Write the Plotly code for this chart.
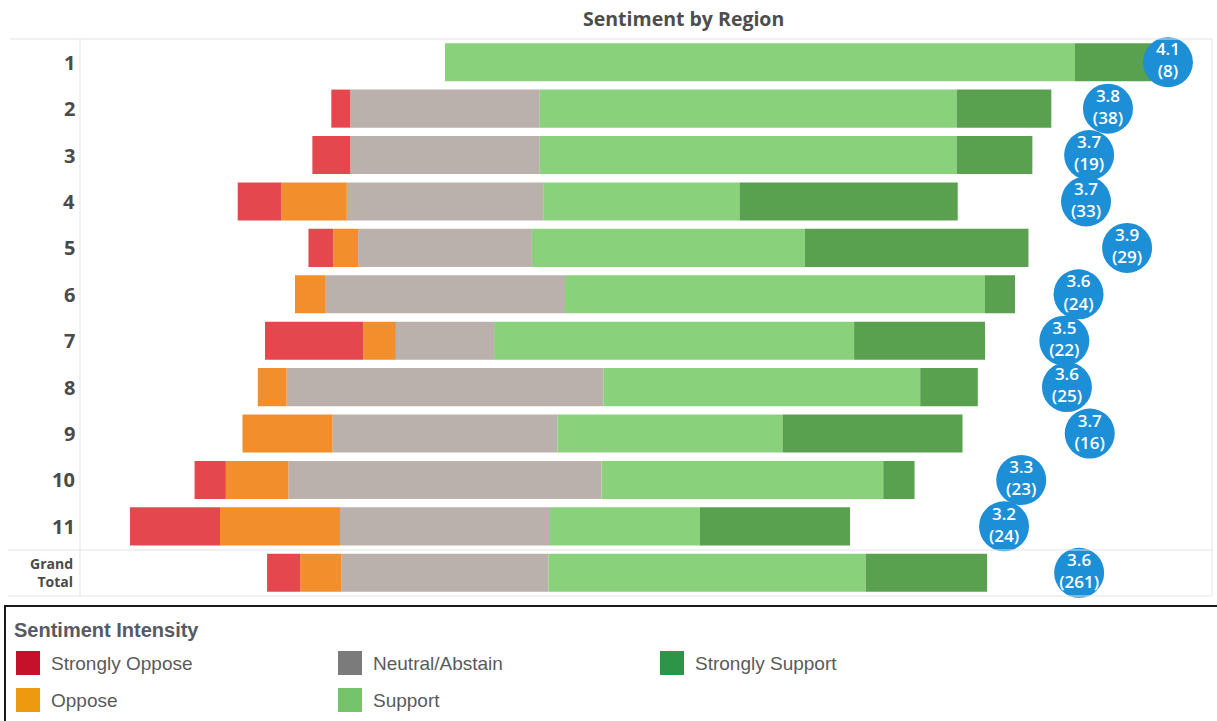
import plotly.graph_objects as go

# ---------------- data ----------------
regions = ["1", "2", "3", "4", "5", "6", "7", "8", "9", "10", "11"]
strongly_oppose = [0, 1, 1, 2, 1, 0, 3, 0, 0, 1, 3]
oppose = [0, 0, 0, 3, 1, 1, 1, 1, 2, 2, 4]
neutral = [0, 10, 5, 9, 7, 8, 3, 11, 5, 10, 7]
support = [7, 22, 11, 9, 11, 14, 11, 11, 5, 9, 5]
strongly_support = [1, 5, 2, 10, 9, 1, 4, 2, 4, 1, 5]
total_label = "Grand<br>Total"

categories = ["Strongly Oppose", "Oppose", "Neutral/Abstain", "Support", "Strongly Support"]
bar_colors = ["#E4484E", "#F28E2B", "#BAB0AC", "#8AD17C", "#59A14F"]
legend_colors = ["#C5122A", "#EE9A10", "#7B7B7B", "#74C46C", "#2E9447"]

# ---------------- derived ----------------
series = [strongly_oppose, oppose, neutral, support, strongly_support]
rows = [list(s) + [sum(s)] for s in series]  # append Grand Total
so, op, ne, su, ss = rows
labels = regions + [total_label]
n = [a + b + c + d + e for a, b, c, d, e in zip(so, op, ne, su, ss)]
scores = [(1 * a + 2 * b + 3 * c + 4 * d + 5 * e) / t for a, b, c, d, e, t in zip(so, op, ne, su, ss, n)]
ypos = list(range(len(labels)))

def pct(vals, sign=1, half=False):
    return [sign * v / t * 100 * (0.5 if half else 1) for v, t in zip(vals, n)]

# ---------------- layout geometry (pixels) ----------------
W, H = 1217, 721
L, R, T, B = 80, 1212, 39, 596

def px2x(px):
    return (px - L) / (R - L)

def px2y(py):
    return (B - py) / (B - T)

fig = go.Figure()
bw = 0.82
# negative side (closest to centre first)
fig.add_trace(go.Bar(y=ypos, x=pct(ne, -1, True), orientation="h", marker_color=bar_colors[2],
                     width=bw, name=categories[2], showlegend=False, marker_line_width=0))
fig.add_trace(go.Bar(y=ypos, x=pct(op, -1), orientation="h", marker_color=bar_colors[1],
                     width=bw, name=categories[1], showlegend=False, marker_line_width=0))
fig.add_trace(go.Bar(y=ypos, x=pct(so, -1), orientation="h", marker_color=bar_colors[0],
                     width=bw, name=categories[0], showlegend=False, marker_line_width=0))
# positive side
fig.add_trace(go.Bar(y=ypos, x=pct(ne, 1, True), orientation="h", marker_color=bar_colors[2],
                     width=bw, name=categories[2], showlegend=False, marker_line_width=0))
fig.add_trace(go.Bar(y=ypos, x=pct(su), orientation="h", marker_color=bar_colors[3],
                     width=bw, name=categories[3], showlegend=False, marker_line_width=0))
fig.add_trace(go.Bar(y=ypos, x=pct(ss), orientation="h", marker_color=bar_colors[4],
                     width=bw, name=categories[4], showlegend=False, marker_line_width=0))

# score circles on secondary x axis
fig.add_trace(go.Scatter(
    x=scores, y=ypos, xaxis="x2", mode="markers+text",
    marker=dict(size=50, color="#1C8FD7", line=dict(width=0)),
    text=[f"{s:.1f}<br>({t})" for s, t in zip(scores, n)],
    textposition="middle center",
    textfont=dict(family="Open Sans", size=17, color="white", weight=600),
    showlegend=False, cliponaxis=False,
))

center_px = 445.0
pct_px = 7.2
score_px0, score_px1 = 430.4, 178.8

annotations = []
# row labels
for i, lab in enumerate(labels):
    if "<br>" in lab:
        annotations.append(dict(x=px2x(75), y=i, xref="paper", yref="y", text=lab, showarrow=False,
                                xanchor="right", yanchor="middle", align="right",
                                font=dict(family="Open Sans", size=14, color="#4a4a4a", weight=700)))
    else:
        annotations.append(dict(x=px2x(77), y=i, xref="paper", yref="y", text=lab, showarrow=False,
                                xanchor="right", yanchor="middle",
                                font=dict(family="Open Sans", size=20, color="#4a4a4a", weight=700)))
# title
annotations.append(dict(x=px2x(683), y=px2y(18), xref="paper", yref="paper", text="Sentiment by Region",
                        showarrow=False, xanchor="center", yanchor="middle",
                        font=dict(family="Open Sans", size=19.5, color="#4d4d4d", weight=700)))
# legend title
annotations.append(dict(x=px2x(12), y=px2y(630), xref="paper", yref="paper", text="Sentiment Intensity",
                        showarrow=False, xanchor="left", yanchor="middle",
                        font=dict(family="Liberation Sans", size=20, color="#555a63", weight=700)))

shapes = []
# table lines
line_col = "#e3e3e3"
for (x0, y0, x1, y1) in [(10, T, R, T), (8, 550, R, 550), (8, B, R, B), (L, T, L, B), (R, T, R, B)]:
    shapes.append(dict(type="line", xref="paper", yref="paper", x0=px2x(x0), x1=px2x(x1),
                       y0=px2y(y0), y1=px2y(y1), line=dict(color=line_col, width=1)))
# legend box
shapes.append(dict(type="rect", xref="paper", yref="paper", x0=px2x(5), x1=px2x(1230),
                   y0=px2y(606), y1=px2y(730), line=dict(color="#1a1a1a", width=2), fillcolor="rgba(0,0,0,0)"))

legend_items = [(0, 16, 663), (1, 16, 700), (2, 338, 663), (3, 338, 700), (4, 660, 663)]
for idx, sx, sy in legend_items:
    shapes.append(dict(type="rect", xref="paper", yref="paper", x0=px2x(sx), x1=px2x(sx + 24),
                       y0=px2y(sy - 12), y1=px2y(sy + 12), line=dict(width=0),
                       fillcolor=legend_colors[idx]))
    annotations.append(dict(x=px2x(sx + 33), y=px2y(sy), xref="paper", yref="paper", text=categories[idx],
                            showarrow=False, xanchor="left", yanchor="middle",
                            font=dict(family="Liberation Sans", size=19, color="#5a5a5a")))

fig.update_layout(
    width=W, height=H,
    margin=dict(l=L, r=W - R, t=T, b=H - B),
    barmode="relative",
    plot_bgcolor="white", paper_bgcolor="white",
    xaxis=dict(range=[(L - center_px) / pct_px, (R - center_px) / pct_px], visible=False, fixedrange=True),
    xaxis2=dict(range=[(L - score_px0) / score_px1, (R - score_px0) / score_px1], overlaying="x",
                side="top", visible=False, fixedrange=True),
    yaxis=dict(range=[len(labels) - 0.5, -0.5], visible=False, fixedrange=True),
    shapes=shapes, annotations=annotations,
    showlegend=False,
)

fig.write_html("out.html")
